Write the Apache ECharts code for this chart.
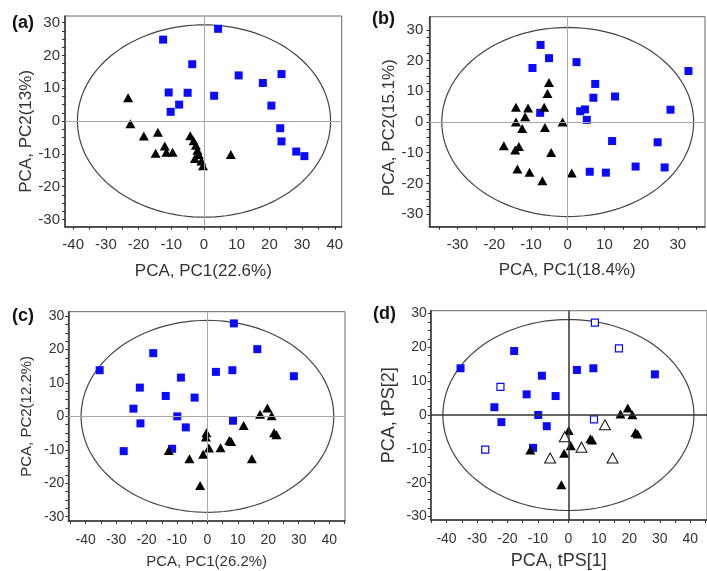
<!DOCTYPE html>
<html>
<head>
<meta charset="utf-8">
<script src="https://cdn.jsdelivr.net/npm/echarts@6/dist/echarts.min.js"></script>
<style>
  html, body { margin: 0; background: #fff; }
  #chart { width: 707px; height: 571px; }
</style>
</head>
<body>
<div id="chart"></div>
<script>
// Four PCA score plots, each with a Hotelling ellipse and zero cross-hair.

// (a) PC1 (22.6%) vs PC2 (13%)
var aSquares = [[-12.5, 24.8], [4.3, 28.1], [-3.6, 17.3], [-10.8, 8.7], [-5.0, 8.6], [-7.6, 5.0],
  [-10.2, 2.8], [3.1, 7.7], [10.6, 13.9], [18.0, 11.6], [23.7, 14.3], [20.6, 4.7],
  [23.3, -2.2], [23.7, -6.2], [28.2, -9.3], [30.7, -10.7]];
var aTriangles = [[-23.2, 7.1], [-22.5, -0.8], [-18.4, -4.6], [-14.1, -3.4], [-14.8, -9.8],
  [-12.0, -7.6], [-11.5, -9.5], [-9.6, -9.5], [-4.2, -4.5], [-3.2, -6.0], [-2.5, -7.4],
  [-2.0, -8.9], [-1.6, -10.2], [-2.8, -11.4], [-0.8, -12.2], [-0.3, -13.6], [8.2, -10.2]];

// (b) PC1 (18.4%) vs PC2 (15.1%)
var bSquares = [[-7.4, 25.1], [-5.1, 20.8], [-9.6, 17.6], [2.4, 19.5], [7.5, 12.4], [7.0, 7.9],
  [12.9, 8.3], [3.4, 3.5], [4.7, 4.1], [5.2, 0.7], [-7.5, 3.0], [32.9, 16.6], [28.0, 4.0],
  [12.1, -6.2], [24.5, -6.6], [6.0, -16.2], [10.4, -16.5], [18.5, -14.5], [26.4, -14.8]];
var bTriangles = [[-5.1, 12.9], [-5.5, 9.3], [-14.1, 4.8], [-10.8, 4.6], [-6.4, 4.8], [-11.6, 1.7],
  [-14.1, 0.0], [-12.4, -2.1], [-6.2, -1.8], [-1.4, 0.0], [-17.4, -7.7], [-14.3, -9.1],
  [-13.3, -8.0], [-4.5, -9.9], [-13.7, -15.3], [-10.4, -16.4], [-6.9, -19.1], [1.1, -16.6]];

// (c) PC1 (26.2%) vs PC2 (12.2%)
var cSquares = [[-35.4, 13.8], [-27.5, -10.4], [-17.8, 18.9], [-22.2, 8.6], [-24.3, 2.3],
  [-22.0, -2.1], [-13.7, 6.1], [-8.7, 11.6], [-9.9, 0.0], [-4.2, 5.6], [-7.1, -3.3],
  [-11.6, -9.7], [2.8, 13.3], [8.2, 13.8], [8.7, 27.8], [16.4, 20.1], [28.4, 12.0], [8.4, -1.3]];
var cTriangles = [[-12.7, -10.2], [-5.9, -12.7], [-0.3, -4.9], [-0.5, -6.2], [0.5, -9.5],
  [-1.4, -11.3], [-2.4, -20.7], [4.3, -9.4], [7.2, -7.2], [7.8, -7.5], [11.9, -2.7],
  [14.6, -12.7], [17.3, 0.6], [19.7, 2.5], [21.1, 0.2], [21.9, -4.9], [22.7, -5.5]];

// (d) tPS[1] vs tPS[2], filled = model set, open = prediction set
var dSquares = [[-35.4, 13.8], [-17.8, 18.9], [-24.3, 2.3], [-22.0, -2.1], [-13.7, 6.1],
  [-8.7, 11.6], [-9.9, 0.0], [-4.2, 5.6], [-7.1, -3.3], [-11.6, -9.7], [2.8, 13.3],
  [8.2, 13.8], [28.4, 12.0]];
var dSquaresOpen = [[8.7, 27.3], [16.6, 19.7], [-22.3, 8.3], [-27.3, -10.2], [8.4, -1.3]];
var dTriangles = [[-12.5, -10.3], [0.1, -4.6], [0.8, -9.1], [-1.4, -11.3], [-2.3, -20.6],
  [7.2, -7.0], [7.8, -7.4], [17.1, 0.3], [19.5, 2.1], [21.0, 0.1], [22.0, -5.2], [22.7, -5.6]];
var dTrianglesOpen = [[-1.2, -6.4], [-6.0, -12.7], [4.3, -9.5], [12.0, -2.9], [14.5, -12.7]];

// tick marks and labels
var xTicksA = [-40, -35, -30, -25, -20, -15, -10, -5, 0, 5, 10, 15, 20, 25, 30, 35, 40];
var xLabelsA = [-40, -30, -20, -10, 0, 10, 20, 30, 40];
var xTicksB = [-35, -30, -25, -20, -15, -10, -5, 0, 5, 10, 15, 20, 25, 30, 35];
var xLabelsB = [-30, -20, -10, 0, 10, 20, 30];
var xTicksC = [-45, -40, -35, -30, -25, -20, -15, -10, -5, 0, 5, 10, 15, 20, 25, 30, 35, 40, 45];
var xLabelsC = [-40, -30, -20, -10, 0, 10, 20, 30, 40];
var yTicks = [-30, -27.5, -25, -22.5, -20, -17.5, -15, -12.5, -10, -7.5, -5, -2.5, 0,
  2.5, 5, 7.5, 10, 12.5, 15, 17.5, 20, 22.5, 25, 27.5, 30];
var yLabels = [-30, -20, -10, 0, 10, 20, 30];

var FONT = "'Liberation Sans', Arial, sans-serif";
var BLUE = "#0a0aff";
var INK = "#333";

var panels = [
  { tag: "(a)", tagPos: [12, 14], box: [65, 16, 276.7, 210.7], x: [-42.5, 42.1], y: [-32.2, 32],
    xTicks: xTicksA, xLabels: xLabelsA, ell: [38.7, 29.3], cross: "#a8a8a8",
    xName: "PCA, PC1(22.6%)", yName: "PCA, PC2(13%)", nameSize: 17, labelSize: 15,
    xGap: 36, yGap: 20, yMargin: 5, xMargin: 11, yPad: [0, 20, 0, 0], xPad: 0,
    sq: aSquares, tri: aTriangles },
  { tag: "(b)", tagPos: [372, 10], box: [429.3, 16.7, 275.7, 210], x: [-37.7, 37.4], y: [-34.1, 34.3],
    xTicks: xTicksB, xLabels: xLabelsB, ell: [34.3, 30.8], cross: "#a8a8a8",
    xName: "PCA, PC1(18.4%)", yName: "PCA, PC2(15.1%)", nameSize: 17, labelSize: 15,
    xGap: 35, yGap: 29, yMargin: 6, xMargin: 11, yPad: [0, 12, 0, 0], xPad: 0,
    sq: bSquares, tri: bTriangles },
  { tag: "(c)", tagPos: [12, 307], box: [68.3, 311.7, 276.7, 209.3], x: [-45.7, 45.2], y: [-31.3, 31.3],
    xTicks: xTicksC, xLabels: xLabelsC, ell: [41.5, 28.7], cross: "#a8a8a8",
    xName: "PCA, PC1(26.2%)", yName: "PCA, PC2(12.2%)", nameSize: 15, labelSize: 14,
    xGap: 33, yGap: 34, yMargin: 4, xMargin: 12, yPad: 0, xPad: 0,
    sq: cSquares, tri: cTriangles },
  { tag: "(d)", tagPos: [373, 305], box: [430.7, 310.7, 277, 209.3], x: [-45.2, 45.5], y: [-31, 30.8],
    xTicks: xTicksC, xLabels: xLabelsC, ell: [41.2, 28.2], cross: "#333",
    xName: "PCA, tPS[1]", yName: "PCA, tPS[2]", nameSize: 18, labelSize: 14,
    xGap: 32, yGap: 33, yMargin: 4, xMargin: 12, yPad: 0, xPad: [0, 20, 0, 0],
    sq: dSquares, tri: dTriangles, sqOpen: dSquaresOpen, triOpen: dTrianglesOpen }
];

function ellipse(rx, ry) {
  return function (params, api) {
    var pts = [];
    for (var i = 0; i <= 144; i++) {
      var t = i / 144 * Math.PI * 2;
      pts.push(api.coord([rx * Math.cos(t), ry * Math.sin(t)]));
    }
    return { type: "polyline", shape: { points: pts },
      style: { fill: null, stroke: "#444", lineWidth: 1.2 } };
  };
}

var grids = [], xAxes = [], yAxes = [], series = [], graphics = [];

panels.forEach(function (p, i) {
  grids.push({ left: p.box[0], top: p.box[1], width: p.box[2], height: p.box[3],
    show: true, borderColor: "#666", borderWidth: 1, backgroundColor: "transparent" });

  xAxes.push({ gridIndex: i, type: "value", min: p.x[0], max: p.x[1],
    splitLine: { show: false },
    axisLine: { onZero: false, lineStyle: { color: INK, width: 1.5 } },
    axisTick: { customValues: p.xTicks, length: 3, lineStyle: { color: INK } },
    axisLabel: { customValues: p.xLabels, margin: p.xMargin, fontSize: p.labelSize, color: INK, fontFamily: FONT },
    name: p.xName, nameLocation: "middle", nameGap: p.xGap,
    nameTextStyle: { fontSize: p.nameSize, color: INK, fontFamily: FONT, padding: p.xPad } });

  yAxes.push({ gridIndex: i, type: "value", min: p.y[0], max: p.y[1],
    splitLine: { show: false },
    axisLine: { onZero: false, lineStyle: { color: INK, width: 1.5 } },
    axisTick: { customValues: yTicks, length: 3, lineStyle: { color: INK } },
    axisLabel: { customValues: yLabels, margin: p.yMargin, fontSize: p.labelSize, color: INK, fontFamily: FONT },
    name: p.yName, nameLocation: "middle", nameGap: p.yGap,
    nameTextStyle: { fontSize: p.nameSize, color: INK, fontFamily: FONT, padding: p.yPad } });

  series.push({ type: "custom", xAxisIndex: i, yAxisIndex: i, data: [[0, 0]],
    renderItem: ellipse(p.ell[0], p.ell[1]), silent: true, z: 1,
    markLine: { silent: true, symbol: "none", label: { show: false },
      lineStyle: { color: p.cross, type: "solid", width: i === 3 ? 1.5 : 1 },
      data: [{ xAxis: 0 }, { yAxis: 0 }] } });

  series.push({ type: "scatter", xAxisIndex: i, yAxisIndex: i, data: p.sq, z: 3,
    symbol: "rect", symbolSize: 8, itemStyle: { color: BLUE, opacity: 1 } });
  series.push({ type: "scatter", xAxisIndex: i, yAxisIndex: i, data: p.tri, z: 3,
    symbol: "triangle", symbolSize: [10, 9], itemStyle: { color: "#000", opacity: 1 } });

  if (p.sqOpen) {
    series.push({ type: "scatter", xAxisIndex: i, yAxisIndex: i, data: p.sqOpen, z: 4,
      symbol: "rect", symbolSize: 7,
      itemStyle: { color: "#fff", borderColor: BLUE, borderWidth: 1.2, opacity: 1 } });
    series.push({ type: "scatter", xAxisIndex: i, yAxisIndex: i, data: p.triOpen, z: 4,
      symbol: "triangle", symbolSize: [11, 10],
      itemStyle: { color: "#fff", borderColor: "#111", borderWidth: 1, opacity: 1 } });
  }

  graphics.push({ type: "text", x: p.tagPos[0], y: p.tagPos[1],
    style: { text: p.tag, font: "bold 18px " + FONT, fill: "#111" } });
});

var chart = echarts.init(document.getElementById("chart"));
chart.setOption({
  animation: false,
  backgroundColor: "#fff",
  grid: grids,
  xAxis: xAxes,
  yAxis: yAxes,
  series: series,
  graphic: graphics
});
</script>
</body>
</html>
